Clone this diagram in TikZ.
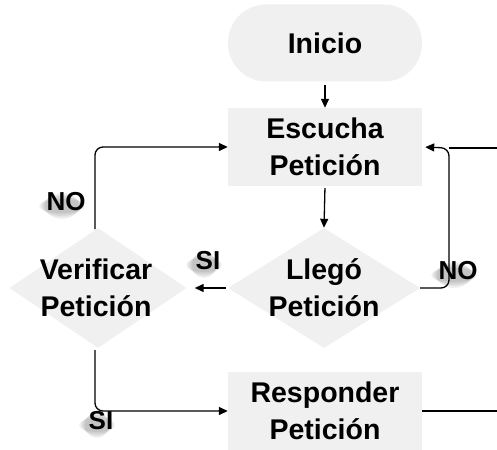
\documentclass[tikz,border=0pt]{standalone}
\usepackage{fontspec}
\setmainfont{Liberation Sans}
\usetikzlibrary{shapes.geometric,arrows.meta,calc}
\definecolor{boxfill}{RGB}{240,240,240}
\tikzset{
  base/.style={fill=boxfill, draw=none, inner sep=0pt},
  stepbox/.style={base, rectangle, minimum width=194pt, minimum height=78pt},
  startbox/.style={base, rectangle, rounded corners=38pt, minimum width=194pt, minimum height=77pt},
  decision/.style={base, diamond},
  txt/.style={align=center, font=\fontsize{28.5}{36.7}\selectfont\bfseries, inner sep=0pt},
  lbl/.style={font=\fontsize{26}{27}\selectfont\bfseries, inner sep=0pt},
  glow/.style={fill=black, draw=none, opacity=0.05},
  arr/.style={line width=1.3pt, -{Triangle[length=9pt,width=8pt]}},
  line/.style={line width=1.3pt},
}
% label with a soft grey drop shadow behind it
\newcommand\softlabel[4]{% name, position, half width, text
  \foreach \g in {0,3,6,9,12}{%
    \fill[glow] ($(#2)+(-4,4)$) ellipse ({#3+3+\g/2} and {13-\g/2});}
  \node[lbl] (#1) at (#2) {#4};
}
\begin{document}
\begin{tikzpicture}[x=1pt,y=-1pt]
\useasboundingbox (0,0) rectangle (497,449);

% process shapes
\node[startbox] (inicio) at (325,43) {};
\node[txt] (tinicio) at (inicio) {Inicio};
\node[stepbox] (escucha) at (325,147) {};
\node[txt] (tescucha) at (escucha) {Escucha\\Petición};
\node[decision, minimum width=192pt, minimum height=120pt] (llego) at (324,288) {};
\node[txt] (tllego) at (llego) {Llegó\\Petición};
\node[decision, minimum width=177pt, minimum height=120pt] (verif) at (98,288) {};
\node[txt] (tverif) at (96,288) {Verificar\\Petición};
\node[stepbox] (resp) at (325,411) {};
\node[txt] (tresp) at (resp) {Responder\\Petición};

% branch labels (the loop line runs over the right one)
\softlabel{noleft}{66,202}{14}{NO}
\softlabel{simid}{208,261}{9}{SI}
\softlabel{noright}{458,271}{14}{NO}
\softlabel{sibot}{101,421}{9}{SI}

% helper points for the loops
\coordinate (rtop) at (449,148);
\coordinate (redge) at (497,148);
\coordinate (bedge) at (497,411);
\coordinate (vtop) at (95,229);
\coordinate (vbot) at (95,350);

% connectors
\draw[arr, shorten <=3pt] (inicio.south) -- (escucha.north);
\draw[arr, shorten <=2pt] (escucha.south) -- (llego.north);
\draw[arr, shorten <=2pt, shorten >=8pt] (llego.west) -- (verif.east);
\draw[arr, rounded corners=8pt] (vtop) |- (escucha.west);
\draw[arr, rounded corners=8pt, shorten >=3pt] (llego.east) -| (rtop) -- (escucha.east);
\draw[line] (redge) -- (rtop);
\draw[arr, rounded corners=8pt] (vbot) |- (resp.west);
\draw[line] (resp.east) -- (bedge);
\end{tikzpicture}
\end{document}
